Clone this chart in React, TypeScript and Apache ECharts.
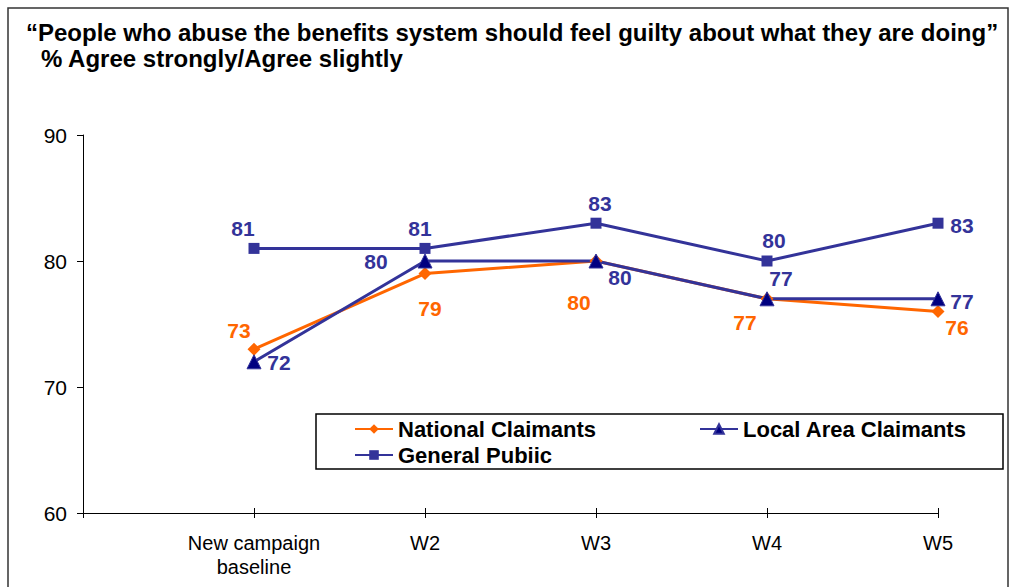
import React, { useEffect, useRef } from "react";
import * as echarts from "echarts";

const categories = ["", "New campaign\nbaseline", "W2", "W3", "W4", "W5"];
const nationalClaimants = [73, 79, 80, 77, 76];
const localAreaClaimants = [72, 80, 80, 77, 77];
const generalPublic = [81, 81, 83, 80, 83];
const yTicks = [60, 70, 80, 90];

const ORANGE = "#FF6600";
const NAVY = "#333399";
const DARKNAVY = "#000080";
const FONT = "'Liberation Sans', Arial, sans-serif";

const nationalOffsets = [[-15, -19], [5, 35], [-17, 41], [-22, 24], [19, 16]];
const localOffsets = [[25, 1], [-49, 0], [24, 16], [14, -20], [24, 3]];
const generalOffsets = [[-11, -20], [-5, -20], [4, -20], [7, -21], [24, 2]];

function buildData(values: number[], offsets: number[][]) {
  return [null as any].concat(
    values.map((v, i) => ({ value: v, label: { offset: offsets[i] } }))
  );
}

export default function App() {
  const ref = useRef<HTMLDivElement>(null);
  useEffect(() => {
    document.body.style.margin = "0";
    const chart = echarts.init(ref.current!, null, { renderer: "svg" });
    const labelBase = (color: string) => ({
      show: true,
      position: "inside",
      color,
      fontSize: 21,
      fontWeight: "bold",
      fontFamily: FONT,
      align: "center",
      verticalAlign: "middle",
    });
    const legendText = { fontSize: 22, fontWeight: "bold", color: "#000", fontFamily: FONT };
    chart.setOption({
      animation: false,
      backgroundColor: "#ffffff",
      textStyle: { fontFamily: FONT },
      title: [
        {
          text: "\u201CPeople who abuse the benefits system should feel guilty about what they are doing\u201D",
          left: 26,
          top: 20,
          padding: 0,
          textStyle: { fontSize: 24, fontWeight: "bold", color: "#000", fontFamily: FONT },
        },
        {
          text: "% Agree strongly/Agree slightly",
          left: 41,
          top: 46,
          padding: 0,
          textStyle: { fontSize: 24, fontWeight: "bold", color: "#000", fontFamily: FONT },
        },
      ],
      graphic: [
        {
          type: "rect",
          shape: { x: 8, y: 8, width: 1000, height: 620 },
          style: { fill: "none", stroke: "#333", lineWidth: 1.5 },
          silent: true,
        },
        {
          type: "rect",
          shape: { x: 316, y: 414, width: 687, height: 55 },
          style: { fill: "#fff", stroke: "#000", lineWidth: 1.5 },
          z: 3,
          silent: true,
        },
      ],
      legend: [
        {
          data: ["National Claimants"],
          left: 354,
          top: 418,
          padding: 0,
          itemWidth: 38,
          itemHeight: 12,
          z: 5,
          textStyle: legendText,
        },
        {
          data: ["Local Area Claimants"],
          left: 699,
          top: 418,
          padding: 0,
          itemWidth: 38,
          itemHeight: 12,
          z: 5,
          textStyle: legendText,
        },
        {
          data: ["General Pubiic"],
          left: 354,
          top: 444,
          padding: 0,
          itemWidth: 38,
          itemHeight: 12,
          z: 5,
          textStyle: legendText,
        },
      ],
      grid: { left: 83, top: 135, width: 855, height: 378, containLabel: false },
      xAxis: [
        {
          type: "category",
          data: categories,
          boundaryGap: false,
          axisLine: { show: true, lineStyle: { color: "#000", width: 1 } },
          axisTick: { show: true, inside: false, length: 5, lineStyle: { color: "#000" } },
          axisLabel: {
            color: "#000",
            fontSize: 20,
            lineHeight: 24,
            margin: 18,
            fontFamily: FONT,
            interval: 0,
          },
          splitLine: { show: false },
        },
        {
          type: "category",
          data: categories,
          boundaryGap: false,
          position: "bottom",
          axisLine: { show: false },
          axisTick: { show: true, inside: true, length: 5, lineStyle: { color: "#000" } },
          axisLabel: { show: false },
          splitLine: { show: false },
        },
      ],
      yAxis: {
        type: "value",
        min: yTicks[0],
        max: yTicks[yTicks.length - 1],
        interval: 10,
        axisLine: { show: true, lineStyle: { color: "#000", width: 1 } },
        axisTick: { show: true, inside: false, length: 6, lineStyle: { color: "#000" } },
        axisLabel: { color: "#000", fontSize: 21, margin: 16, fontFamily: FONT },
        splitLine: { show: false },
      },
      series: [
        {
          name: "General Pubiic",
          type: "line",
          data: buildData(generalPublic, generalOffsets),
          symbol: "rect",
          symbolSize: 11,
          lineStyle: { color: NAVY, width: 3 },
          itemStyle: { color: NAVY },
          label: labelBase(NAVY),
          z: 2,
        },
        {
          name: "National Claimants",
          type: "line",
          data: buildData(nationalClaimants, nationalOffsets),
          symbol: "diamond",
          symbolSize: 13,
          lineStyle: { color: ORANGE, width: 3 },
          itemStyle: { color: ORANGE },
          label: labelBase(ORANGE),
          z: 2,
        },
        {
          name: "Local Area Claimants",
          type: "line",
          data: buildData(localAreaClaimants, localOffsets),
          symbol: "triangle",
          symbolSize: 14,
          lineStyle: { color: NAVY, width: 3 },
          itemStyle: { color: DARKNAVY, borderColor: NAVY, borderWidth: 1 },
          label: labelBase(NAVY),
          z: 2,
        },
      ],
    });
    return () => chart.dispose();
  }, []);
  return <div ref={ref} style={{ width: 1013, height: 587 }} />;
}
